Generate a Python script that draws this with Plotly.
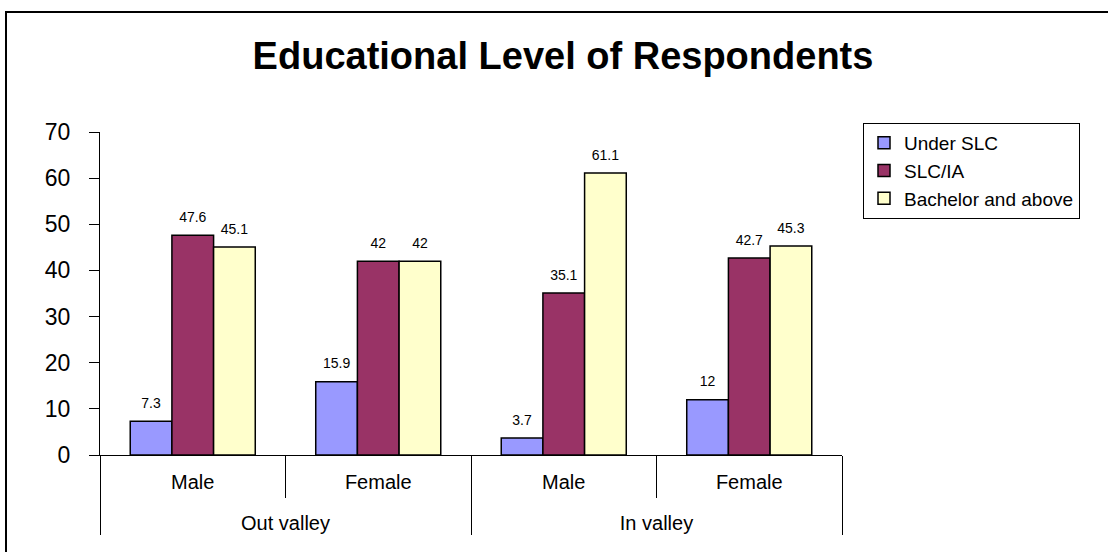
import plotly.graph_objects as go

regions = ["Out valley", "Out valley", "In valley", "In valley"]
genders = ["Male", "Female", "Male", "Female"]
series_names = ["Under SLC", "SLC/IA", "Bachelor and above"]
under_slc = [7.3, 15.9, 3.7, 12]
slc_ia = [47.6, 42, 35.1, 42.7]
bachelor = [45.1, 42, 61.1, 45.3]
colors = ["#9999FF", "#993366", "#FFFFCC"]
y_ticks = [0, 10, 20, 30, 40, 50, 60, 70]

FONT = "Liberation Sans, Arial, sans-serif"

# second-level labels get a blank first line to push them lower, like the original
region_labels = ["<br>" + r for r in regions]

fig = go.Figure()
for i, (name, vals, col) in enumerate(zip(series_names, [under_slc, slc_ia, bachelor], colors)):
    fig.add_trace(go.Bar(
        name=name,
        x=[region_labels, genders],
        y=vals,
        marker=dict(color=col, line=dict(color="black", width=1.5)),
        offsetgroup=str(i),
        hoverinfo="skip",
    ))
for i, vals in enumerate([under_slc, slc_ia, bachelor]):
    fig.add_trace(go.Scatter(
        x=[region_labels, genders],
        y=vals,
        mode="markers+text",
        marker=dict(size=14, color="rgba(0,0,0,0)"),
        text=[f"{v:g}" for v in vals],
        textposition="top center",
        textfont=dict(size=14, color="black", family=FONT),
        offsetgroup=str(i),
        showlegend=False,
        cliponaxis=False,
        hoverinfo="skip",
    ))

fig.update_layout(
    width=1108, height=552,
    paper_bgcolor="white", plot_bgcolor="white",
    margin=dict(l=100, r=266, t=132, b=97),
    barmode="group", bargap=0.326, bargroupgap=0,
    scattermode="group", scattergap=0.326,
    font=dict(family=FONT, color="black"),
    title=dict(text="<b>Educational Level of Respondents</b>",
               font=dict(size=38, color="black", family=FONT),
               x=563 / 1108, xanchor="center", y=1 - 56 / 552, yanchor="middle"),
    legend=dict(x=(863 - 100) / 742, y=(455 - 123) / 323, xanchor="left", yanchor="top",
                bordercolor="black", borderwidth=1, bgcolor="white",
                font=dict(size=19, color="black", family=FONT),
                tracegroupgap=0, traceorder="normal"),
    showlegend=True,
)
fig.update_yaxes(range=[0, 70], tickvals=y_ticks, showline=True, linecolor="black", linewidth=1,
                 ticks="outside", ticklen=10, tickcolor="black", showgrid=False, zeroline=False,
                 tickfont=dict(size=23, color="black", family=FONT), ticklabelstandoff=14)
fig.update_xaxes(showline=True, linecolor="black", linewidth=1, ticks="outside",
                 tickson="boundaries", ticklen=42, tickcolor="black", showgrid=False,
                 showdividers=True, dividercolor="black", dividerwidth=1,
                 ticklabelstandoff=9,
                 tickfont=dict(size=20, color="black", family=FONT))

fig.add_shape(type="rect", xref="paper", yref="paper",
              x0=(6 - 100) / 742, x1=(1120 - 100) / 742,
              y0=(455 - 565) / 323, y1=(455 - 12) / 323,
              line=dict(color="black", width=2), fillcolor="rgba(0,0,0,0)", layer="below")

fig.write_html("out.html", config={"displayModeBar": False},
               post_script="document.body.style.margin='0';")
